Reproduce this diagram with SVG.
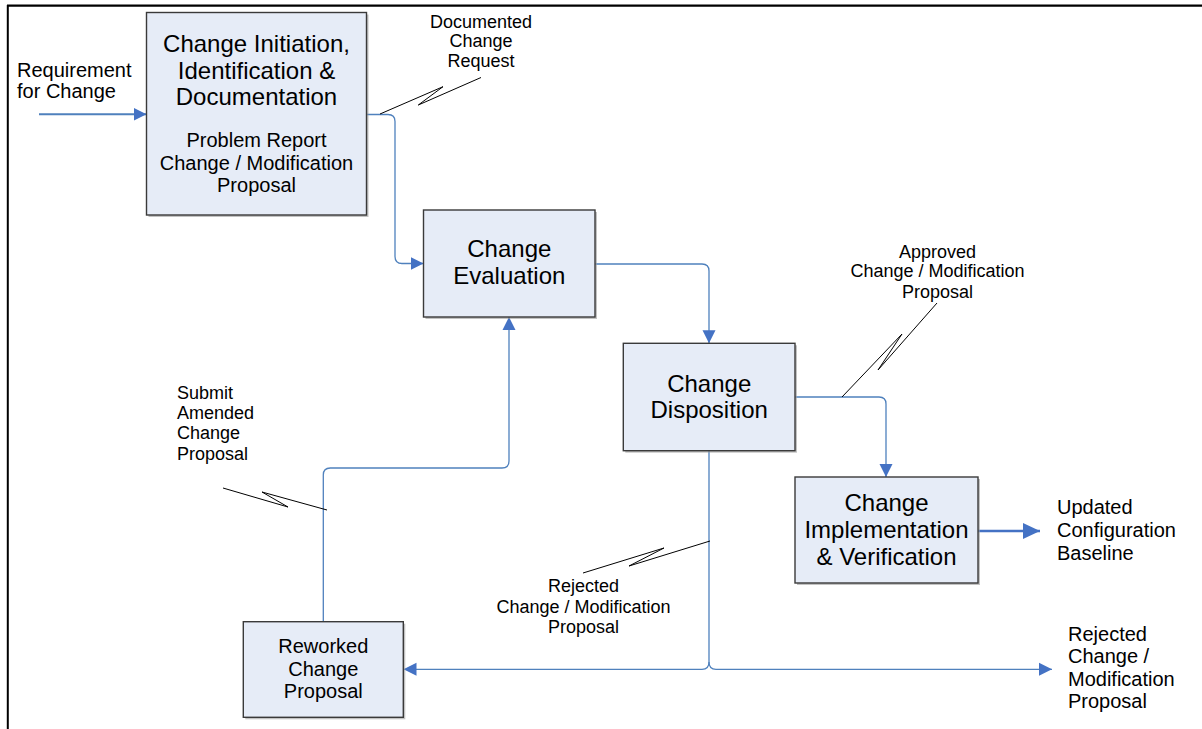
<svg xmlns="http://www.w3.org/2000/svg" width="1202" height="729" viewBox="0 0 1202 729">
<style>
.box{fill:#E6ECF7;stroke:#3A3A3A;stroke-width:1.4}
.shadow{fill:#9A9A9A;opacity:0.6}
.t{font-family:"Liberation Sans",Arial,sans-serif;fill:#000;text-anchor:middle}
.tl{font-family:"Liberation Sans",Arial,sans-serif;fill:#000}
.big{font-size:24px}
.sub{font-size:20px}
.lab{font-size:18px}
.lab20{font-size:20px}
.con{fill:none;stroke:#4F81BD;stroke-width:1.3}
.con2{fill:none;stroke:#4F81BD;stroke-width:2}
.con3{fill:none;stroke:#4472C4;stroke-width:2.6}
.callout{fill:none;stroke:#000;stroke-width:1}
</style>
<defs>
<marker id="ah" markerUnits="userSpaceOnUse" markerWidth="14" markerHeight="14" refX="13" refY="6.5" orient="auto" viewBox="0 0 14 13">
<path d="M0,0 L13,6.5 L0,13 z" fill="#4472C4"/>
</marker>
<marker id="ahBig" markerUnits="userSpaceOnUse" markerWidth="18" markerHeight="17" refX="17" refY="8" orient="auto" viewBox="0 0 18 16">
<path d="M0,0 L17,8 L0,16 z" fill="#4472C4"/>
</marker>
</defs>
<rect width="1202" height="729" fill="#fff"/>
<g id="frame">
<line x1="7" y1="5.7" x2="1202" y2="5.7" stroke="#000" stroke-width="2.2"/>
<line x1="7.8" y1="5" x2="7.8" y2="729" stroke="#000" stroke-width="2"/>
</g>
<g id="connectors">
<line x1="39" y1="114.3" x2="146.5" y2="114.3" class="con2" marker-end="url(#ah)"/>
<path d="M366.5,114.5 H388 Q395,114.5 395,121.5 V256.5 Q395,263.5 402,263.5 H423.5" class="con" marker-end="url(#ah)"/>
<path d="M595,264 H702 Q709,264 709,271 V343.3" class="con" marker-end="url(#ah)"/>
<path d="M795,397 H879 Q886,397 886,404 V477" class="con" marker-end="url(#ah)"/>
<line x1="978" y1="531" x2="1040" y2="531" class="con3" marker-end="url(#ahBig)"/>
<path d="M709,450.7 V662 Q709,669.3 702,669.3 H403.5" class="con" marker-end="url(#ah)"/>
<path d="M709,662 Q709,669.3 716,669.3 H1052" class="con" marker-end="url(#ah)"/>
<path d="M323.3,621.7 V475 Q323.3,468 330.3,468 H502 Q509,468 509,461 V317" class="con" marker-end="url(#ah)"/>
<polyline points="380,114 443,86.7 418.3,105 481,77.5" class="callout"/>
<polyline points="842,397 902,334 878,370 937,303" class="callout"/>
<polyline points="223,488 288,507 262,492 327,510" class="callout"/>
<polyline points="583,573 664,548 629,566 710,541" class="callout"/>
</g>
<g id="node-initiation">
<rect x="148.5" y="14.5" width="220" height="202.5" class="shadow"/>
<rect x="146.5" y="12.5" width="220" height="202.5" class="box"/>
<text class="t big" x="256.5" y="52">Change Initiation,</text>
<text class="t big" x="256.5" y="78.5">Identification &amp;</text>
<text class="t big" x="256.5" y="105">Documentation</text>
<text class="t sub" x="256.5" y="147">Problem Report</text>
<text class="t sub" x="256.5" y="169.5">Change / Modification</text>
<text class="t sub" x="256.5" y="192">Proposal</text>
</g>
<g id="node-evaluation">
<rect x="425.5" y="212" width="171.5" height="107" class="shadow"/>
<rect x="423.5" y="210" width="171.5" height="107" class="box"/>
<text class="t big" x="509.3" y="256.7">Change</text>
<text class="t big" x="509.3" y="283.5">Evaluation</text>
</g>
<g id="node-disposition">
<rect x="625.3" y="345.3" width="171.7" height="107.4" class="shadow"/>
<rect x="623.3" y="343.3" width="171.7" height="107.4" class="box"/>
<text class="t big" x="709.2" y="391.7">Change</text>
<text class="t big" x="709.2" y="418.3">Disposition</text>
</g>
<g id="node-implementation">
<rect x="797" y="479" width="183" height="106" class="shadow"/>
<rect x="795" y="477" width="183" height="106" class="box"/>
<text class="t big" x="886.5" y="510.5">Change</text>
<text class="t big" x="886.5" y="537.5">Implementation</text>
<text class="t big" x="886.5" y="564.5">&amp; Verification</text>
</g>
<g id="node-reworked">
<rect x="245.3" y="623.7" width="160" height="95.6" class="shadow"/>
<rect x="243.3" y="621.7" width="160" height="95.6" class="box"/>
<text class="t sub" x="323.3" y="653.3">Reworked</text>
<text class="t sub" x="323.3" y="675.5">Change</text>
<text class="t sub" x="323.3" y="697.5">Proposal</text>
</g>
<g id="labels">
<text class="tl lab20" x="17" y="76.7">Requirement</text>
<text class="tl lab20" x="17" y="98.3">for Change</text>
<text class="t lab" x="481" y="28.3">Documented</text>
<text class="t lab" x="481" y="47.3">Change</text>
<text class="t lab" x="481" y="66.7">Request</text>
<text class="t lab" x="937.5" y="257.5">Approved</text>
<text class="t lab" x="937.5" y="277">Change / Modification</text>
<text class="t lab" x="937.5" y="297.5">Proposal</text>
<text class="tl lab" x="177" y="399.3">Submit</text>
<text class="tl lab" x="177" y="419.3">Amended</text>
<text class="tl lab" x="177" y="439.3">Change</text>
<text class="tl lab" x="177" y="459.5">Proposal</text>
<text class="t lab" x="583.5" y="591.7">Rejected</text>
<text class="t lab" x="583.5" y="612.5">Change / Modification</text>
<text class="t lab" x="583.5" y="632.7">Proposal</text>
<text class="tl lab20" x="1057" y="514">Updated</text>
<text class="tl lab20" x="1057" y="537">Configuration</text>
<text class="tl lab20" x="1057" y="559.5">Baseline</text>
<text class="tl lab20" x="1068" y="640.7">Rejected</text>
<text class="tl lab20" x="1068" y="663.3">Change /</text>
<text class="tl lab20" x="1068" y="685.5">Modification</text>
<text class="tl lab20" x="1068" y="708">Proposal</text>
</g>
</svg>
